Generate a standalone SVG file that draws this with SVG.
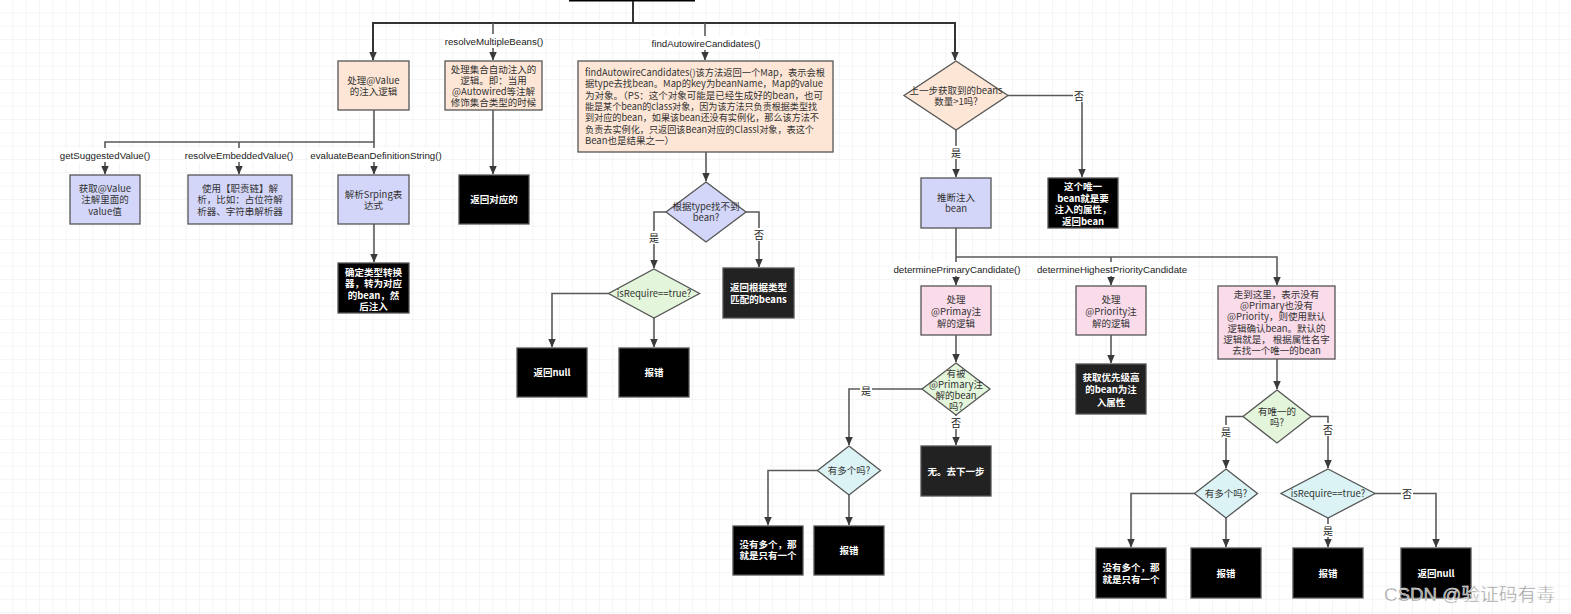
<svg xmlns="http://www.w3.org/2000/svg" width="1571" height="614" viewBox="0 0 1571 614">
<style>
.box{stroke:#555;stroke-width:1.3}
.peach{fill:#fde6d6}
.lav{fill:#d3d6f8}
.pink{fill:#fadbea}
.green{fill:#e3f5da}
.cyan{fill:#dbf3f5}
.blk{fill:#000}
.dk{fill:#222}
.t{font-family:"Noto Sans CJK SC","Liberation Sans",sans-serif;font-size:9.5px;fill:#333;text-anchor:middle}
.w{fill:#fff;font-weight:bold}
.l{text-anchor:start}
.lbl{font-family:"Liberation Sans","Noto Sans CJK SC",sans-serif;font-size:9.7px;fill:#222;text-anchor:middle}
.yn{font-family:"Noto Sans CJK SC",sans-serif;font-size:10px;fill:#222;text-anchor:middle}
.bg{fill:#fff}
.c{fill:none;stroke:#5a5a5a;stroke-width:1.6}
.top{fill:none;stroke:#333;stroke-width:2}
</style>
<defs>
<pattern id="grid" patternUnits="userSpaceOnUse" width="13.33" height="13.33">
<path d="M13.33,0 V13.33 M0,13.33 H13.33" fill="none" stroke="#ebebeb" stroke-width="1"/>
</pattern>
<marker id="arr" markerUnits="userSpaceOnUse" markerWidth="9" markerHeight="9" viewBox="0 0 9 9" refX="8.5" refY="4.5" orient="auto">
<path d="M0,0.5 L9,4.5 L0,8.5 z" fill="#3a3a3a"/>
</marker>
</defs>
<rect width="1571" height="614" fill="#fff"/>
<rect width="1571" height="614" fill="url(#grid)"/>

<g id="n_top"><rect x="569" y="-10" width="126" height="11.5" class="blk"/></g>

<g id="connectors">
<path class="top" d="M633,1 V23 H373 V60" marker-end="url(#arr)"/>
<path class="top" d="M633,23 H955 V60" marker-end="url(#arr)"/>
<path class="c" d="M493,23 V60" marker-end="url(#arr)"/>
<path class="c" d="M705,23 V60" marker-end="url(#arr)"/>
<path class="c" d="M374,110 V142 H105 V174" marker-end="url(#arr)"/>
<path class="c" d="M239,142 V174" marker-end="url(#arr)"/>
<path class="c" d="M374,142 V174" marker-end="url(#arr)"/>
<path class="c" d="M374,224 V262" marker-end="url(#arr)"/>
<path class="c" d="M493,110 V174" marker-end="url(#arr)"/>
<path class="c" d="M706,152 V181" marker-end="url(#arr)"/>
<path class="c" d="M666,212 H654 V268" marker-end="url(#arr)"/>
<path class="c" d="M746,212 H759 V267" marker-end="url(#arr)"/>
<path class="c" d="M608.5,293.5 H552 V347" marker-end="url(#arr)"/>
<path class="c" d="M654,318 V347" marker-end="url(#arr)"/>
<path class="c" d="M1008,95.5 H1082 V177" marker-end="url(#arr)"/>
<path class="c" d="M956,130 V177" marker-end="url(#arr)"/>
<path class="c" d="M956,228 V285" marker-end="url(#arr)"/>
<path class="c" d="M956,257 H1277 V285" marker-end="url(#arr)"/>
<path class="c" d="M1111,257 V285" marker-end="url(#arr)"/>
<path class="c" d="M956,335 V362" marker-end="url(#arr)"/>
<path class="c" d="M1111,335 V363" marker-end="url(#arr)"/>
<path class="c" d="M1277,359 V389" marker-end="url(#arr)"/>
<path class="c" d="M922,389 H849 V445" marker-end="url(#arr)"/>
<path class="c" d="M956,415 V445" marker-end="url(#arr)"/>
<path class="c" d="M818,470.5 H768 V525" marker-end="url(#arr)"/>
<path class="c" d="M849,495 V525" marker-end="url(#arr)"/>
<path class="c" d="M1243,416.5 H1226 V468" marker-end="url(#arr)"/>
<path class="c" d="M1311,416.5 H1328 V468" marker-end="url(#arr)"/>
<path class="c" d="M1195,493.5 H1131 V547" marker-end="url(#arr)"/>
<path class="c" d="M1226,518 V547" marker-end="url(#arr)"/>
<path class="c" d="M1328,518 V547" marker-end="url(#arr)"/>
<path class="c" d="M1375,493.5 H1436 V547" marker-end="url(#arr)"/>

<rect class="bg" x="62" y="148" width="86" height="14"/><text class="lbl" x="105" y="158.5">getSuggestedValue()</text>
<rect class="bg" x="186" y="148" width="106" height="14"/><text class="lbl" x="239" y="158.5">resolveEmbeddedValue()</text>
<rect class="bg" x="309" y="148" width="134" height="14"/><text class="lbl" x="376" y="158.5">evaluateBeanDefinitionString()</text>
<rect class="bg" x="445" y="34" width="98" height="14"/><text class="lbl" x="494" y="44.5">resolveMultipleBeans()</text>
<rect class="bg" x="650" y="36" width="112" height="14"/><text class="lbl" x="706" y="46.5">findAutowireCandidates()</text>
<rect class="bg" x="891" y="262" width="132" height="14"/><text class="lbl" x="957" y="272.5">determinePrimaryCandidate()</text>
<rect class="bg" x="1033" y="262" width="157" height="14"/><text class="lbl" x="1112" y="272.5">determineHighestPriorityCandidate</text>

<rect class="bg" x="648" y="231" width="12" height="13"/><text class="yn" x="654" y="241.5">是</text>
<rect class="bg" x="753" y="228" width="12" height="13"/><text class="yn" x="759" y="238.5">否</text>
<rect class="bg" x="1073" y="89" width="12" height="13"/><text class="yn" x="1079" y="99.5">否</text>
<rect class="bg" x="950" y="146" width="12" height="13"/><text class="yn" x="956" y="156.5">是</text>
<rect class="bg" x="860" y="384" width="12" height="13"/><text class="yn" x="866" y="394.5">是</text>
<rect class="bg" x="950" y="416" width="12" height="13"/><text class="yn" x="956" y="426.5">否</text>
<rect class="bg" x="1220" y="425" width="12" height="13"/><text class="yn" x="1226" y="435.5">是</text>
<rect class="bg" x="1322" y="423" width="12" height="13"/><text class="yn" x="1328" y="433.5">否</text>
<rect class="bg" x="1322" y="524" width="12" height="13"/><text class="yn" x="1328" y="534.5">是</text>
<rect class="bg" x="1401" y="487" width="12" height="13"/><text class="yn" x="1407" y="497.5">否</text>
</g>

<g id="n_value"><rect class="box peach" x="338" y="61" width="71" height="49"/>
<text class="t" x="373.5" y="83.5">处理@Value</text><text class="t" x="373.5" y="95">的注入逻辑</text></g>

<g id="n_multi"><rect class="box peach" x="445" y="61" width="97" height="49"/>
<text class="t" x="493.5" y="72.6">处理集合自动注入的</text><text class="t" x="493.5" y="83.8">逻辑。即：当用</text><text class="t" x="493.5" y="95">@Autowired等注解</text><text class="t" x="493.5" y="106.2">修饰集合类型的时候</text></g>

<g id="n_find"><rect class="box peach" x="578" y="61" width="255" height="91"/>
<text class="t l" x="585" y="75.6" textLength="240" lengthAdjust="spacingAndGlyphs">findAutowireCandidates()该方法返回一个Map，表示会根</text>
<text class="t l" x="585" y="87" textLength="238" lengthAdjust="spacingAndGlyphs">据type去找bean。Map的key为beanName，Map的value</text>
<text class="t l" x="585" y="98.5" textLength="238" lengthAdjust="spacingAndGlyphs">为对象。（PS：这个对象可能是已经生成好的bean，也可</text>
<text class="t l" x="585" y="110" textLength="232" lengthAdjust="spacingAndGlyphs">能是某个bean的class对象，因为该方法只负责根据类型找</text>
<text class="t l" x="585" y="121.4" textLength="234" lengthAdjust="spacingAndGlyphs">到对应的bean，如果该bean还没有实例化，那么该方法不</text>
<text class="t l" x="585" y="132.9" textLength="229" lengthAdjust="spacingAndGlyphs">负责去实例化，只返回该Bean对应的Classl对象，表这个</text>
<text class="t l" x="585" y="144.3">Bean也是结果之一）</text></g>

<g id="n_sugg"><rect class="box lav" x="70" y="175" width="70" height="49"/>
<text class="t" x="105" y="191.5">获取@Value</text><text class="t" x="105" y="203">注解里面的</text><text class="t" x="105" y="214.5">value值</text></g>

<g id="n_embed"><rect class="box lav" x="188" y="175" width="104" height="49"/>
<text class="t" x="240" y="191.5">使用【职责链】解</text><text class="t" x="240" y="203">析，比如：占位符解</text><text class="t" x="240" y="214.5">析器、字符串解析器</text></g>

<g id="n_spel"><rect class="box lav" x="338" y="175" width="71" height="49"/>
<text class="t" x="373.5" y="197.5">解析Srping表</text><text class="t" x="373.5" y="209">达式</text></g>

<g id="n_conv"><rect class="box blk" x="338" y="263" width="71" height="50"/>
<text class="t w" x="373.5" y="275.5">确定类型转换</text><text class="t w" x="373.5" y="287">器，转为对应</text><text class="t w" x="373.5" y="298.5">的bean，然</text><text class="t w" x="373.5" y="310">后注入</text></g>

<g id="n_ret"><rect class="box blk" x="459" y="175" width="70" height="49"/>
<text class="t w" x="494" y="203">返回对应的</text></g>

<g id="d_type"><path class="box lav" d="M706,182 L746,212 L706,242 L666,212 Z"/>
<text class="t" x="706" y="209.5">根据type找不到</text><text class="t" x="706" y="220.5">bean?</text></g>

<g id="d_req1"><path class="box green" d="M654,269 L699.5,293.5 L654,318 L608.5,293.5 Z"/>
<text class="t" x="654" y="297">isRequire==true?</text></g>

<g id="n_null1"><rect class="box blk" x="517" y="348" width="70" height="49"/>
<text class="t w" x="552" y="376">返回null</text></g>

<g id="n_err1"><rect class="box blk" x="619" y="348" width="70" height="49"/>
<text class="t w" x="654" y="376">报错</text></g>

<g id="n_beans"><rect class="box dk" x="723" y="268" width="71" height="50"/>
<text class="t w" x="758.5" y="290.5">返回根据类型</text><text class="t w" x="758.5" y="302.8">匹配的beans</text></g>

<g id="d_gt1"><path class="box peach" d="M956,61 L1008,95.5 L956,130 L904,95.5 Z"/>
<text class="t" x="956" y="93.5">上一步获取到的beans</text><text class="t" x="956" y="105">数量&gt;1吗?</text></g>

<g id="n_unique"><rect class="box blk" x="1048" y="178" width="70" height="50"/>
<text class="t w" x="1083" y="190">这个唯一</text><text class="t w" x="1083" y="201.5">bean就是要</text><text class="t w" x="1083" y="213">注入的属性，</text><text class="t w" x="1083" y="224.5">返回bean</text></g>

<g id="n_infer"><rect class="box lav" x="921" y="178" width="70" height="50"/>
<text class="t" x="956" y="200.8">推断注入</text><text class="t" x="956" y="212">bean</text></g>

<g id="n_prim"><rect class="box pink" x="921" y="286" width="70" height="49"/>
<text class="t" x="956" y="302.5">处理</text><text class="t" x="956" y="314.5">@Primay注</text><text class="t" x="956" y="326.5">解的逻辑</text></g>

<g id="n_prio"><rect class="box pink" x="1076" y="286" width="70" height="49"/>
<text class="t" x="1111" y="302.5">处理</text><text class="t" x="1111" y="314.5">@Priority注</text><text class="t" x="1111" y="326.5">解的逻辑</text></g>

<g id="n_default"><rect class="box pink" x="1218" y="286" width="117" height="73"/>
<text class="t" x="1276.5" y="297.7">走到这里，表示没有</text><text class="t" x="1276.5" y="309">@Primary也没有</text><text class="t" x="1276.5" y="320.3">@Priority，则使用默认</text><text class="t" x="1276.5" y="331.6">逻辑确认bean。默认的</text><text class="t" x="1276.5" y="343">逻辑就是， 根据属性名字</text><text class="t" x="1276.5" y="354.3">去找一个唯一的bean</text></g>

<g id="n_prio_get"><rect class="box dk" x="1076" y="364" width="70" height="50"/>
<text class="t w" x="1111" y="381">获取优先级高</text><text class="t w" x="1111" y="393.3">的bean为注</text><text class="t w" x="1111" y="405.5">入属性</text></g>

<g id="d_prim"><path class="box green" d="M956,363 L990,389 L956,415 L922,389 Z"/>
<text class="t" x="956" y="376.5">有被</text><text class="t" x="956" y="387.8">@Primary注</text><text class="t" x="956" y="399">解的bean</text><text class="t" x="956" y="410.2">吗?</text></g>

<g id="n_next"><rect class="box dk" x="921" y="446" width="70" height="50"/>
<text class="t w" x="956" y="474.5">无。去下一步</text></g>

<g id="d_multi1"><path class="box cyan" d="M849,446 L880.5,470.5 L849,495 L817.5,470.5 Z"/>
<text class="t" x="849" y="474">有多个吗?</text></g>

<g id="n_one1"><rect class="box blk" x="733" y="526" width="70" height="49"/>
<text class="t w" x="768" y="547.7">没有多个，那</text><text class="t w" x="768" y="559">就是只有一个</text></g>

<g id="n_err2"><rect class="box blk" x="814" y="526" width="70" height="49"/>
<text class="t w" x="849" y="554">报错</text></g>

<g id="d_uniq"><path class="box green" d="M1277,390 L1311,416.5 L1277,443 L1243,416.5 Z"/>
<text class="t" x="1277" y="414.5">有唯一的</text><text class="t" x="1277" y="425.8">吗?</text></g>

<g id="d_multi2"><path class="box cyan" d="M1226,469 L1257.5,493.5 L1226,518 L1194.5,493.5 Z"/>
<text class="t" x="1226" y="497">有多个吗?</text></g>

<g id="d_req2"><path class="box cyan" d="M1328,469 L1375,493.5 L1328,518 L1281,493.5 Z"/>
<text class="t" x="1328" y="497">isRequire==true?</text></g>

<g id="n_one2"><rect class="box blk" x="1096" y="548" width="70" height="50"/>
<text class="t w" x="1131" y="571">没有多个，那</text><text class="t w" x="1131" y="582.5">就是只有一个</text></g>

<g id="n_err3"><rect class="box blk" x="1191" y="548" width="70" height="50"/>
<text class="t w" x="1226" y="576.5">报错</text></g>

<g id="n_err4"><rect class="box blk" x="1293" y="548" width="70" height="50"/>
<text class="t w" x="1328" y="576.5">报错</text></g>

<g id="n_null2"><rect class="box blk" x="1401" y="548" width="70" height="50"/>
<text class="t w" x="1436" y="576.5">返回null</text></g>

<text x="1384" y="601" textLength="171" lengthAdjust="spacingAndGlyphs" style="font-family:'Liberation Sans','Noto Sans CJK SC',sans-serif;font-size:18px;fill:#9a9a9a;stroke:#fff;stroke-width:0.4">CSDN @验证码有毒</text>
</svg>
